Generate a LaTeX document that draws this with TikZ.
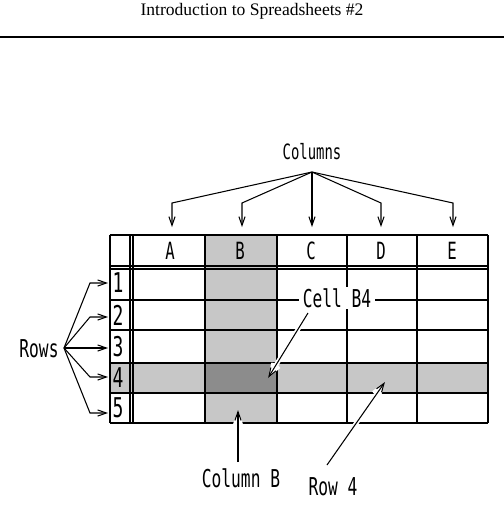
\documentclass[tikz,border=0pt]{standalone}
\usepackage{fontspec}
\setmainfont{Liberation Serif}
\newfontfamily\chifont[FakeStretch=0.66]{DejaVu Sans Mono}
\usetikzlibrary{arrows.meta}

\begin{document}
\begin{tikzpicture}[
    x=0.02cm, y=-0.02cm,
    lbl/.style={
        font=\chifont\fontsize{14}{16}\selectfont,
        inner sep=1pt
    },
    head/.style={
        font=\chifont\fontsize{13.5}{15}\selectfont,
        inner sep=0pt
    },
    num/.style={
        font=\chifont\fontsize{15.5}{17}\selectfont,
        inner sep=0pt
    },
    hline/.style={line width=1.1pt},
    vline/.style={line width=0.6pt},
    arrow/.style={-{Straight Barb[length=5pt,width=3.5pt]}, line width=0.6pt},
    pointer/.style={arrow, preaction={draw=white, line width=2.6pt}}
]

\useasboundingbox (0,0) rectangle (504,522);

% title
\node[font=\fontsize{10}{12}\selectfont] (title) at (252,11) {Introduction to Spreadsheets \#2};
\draw[line width=0.6pt] (0,37) -- (504,37);

% shading
\fill[black!22] (205,235) rectangle (277,423);
\fill[black!22] (110,363) rectangle (488,393);
\fill[black!45] (205,363) rectangle (277,393);

% grid
\foreach \y in {266,269,300,330,363,393}
    \draw[hline] (110,\y) -- (488,\y);
\foreach \x in {130,133,205,277,347,417}
    \draw[vline] (\x,235) -- (\x,423);
\draw[hline] (110,235) -- (488,235);
\draw[hline] (110,423) -- (488,423);
\draw[vline] (110,235) -- (110,423);
\draw[line width=0.9pt] (488,235) -- (488,423);

% column heads
\foreach \x/\l in {170/A,240/B,311/C,381/D,452/E}
    \node[head] (col\l) at (\x,251) {\l};

% row numbers
\foreach \y/\n in {283/1,315/2,347/3,378/4,408/5}
    \node[num] (row\n) at (118,\y) {\n};

% columns
\node[lbl, font=\chifont\fontsize{12}{14}\selectfont] (columns) at (312,152) {Columns};
\coordinate (ctop) at (312,172);
\foreach \x/\l in {172/A,242/B,381/D,453/E} {
    \coordinate (tip\l) at (\x,227);
    \draw[arrow] (ctop) -- (\x,203) -- (tip\l);
}
\coordinate (tipC) at (312,227);
\draw[arrow] (ctop) -- (tipC);

% rows
\node[lbl] (rows) at (39,349) {Rows};
\coordinate (rtop) at (64,348);
\foreach \y/\n in {283/1,317/2,377/4,413/5} {
    \coordinate (rtip\n) at (108,\y);
    \draw[arrow] (rtop) -- (90,\y) -- (rtip\n);
}
\coordinate (rtip3) at (108,348);
\draw[arrow] (rtop) -- (rtip3);

% cell B4
\node[lbl, fill=white, inner xsep=2pt] (cellb4) at (337,298) {Cell B4};
\coordinate (b4from) at (308,313);
\coordinate (b4tip) at (268,378);
\draw[pointer] (b4from) -- (b4tip);

% column B
\node[lbl] (colb) at (241,478) {Column B};
\coordinate (cbfrom) at (238,462);
\coordinate (cbtip) at (238,410);
\draw[pointer] (cbfrom) -- (cbtip);

% row 4
\node[lbl] (row4) at (333,487) {Row 4};
\coordinate (r4from) at (327,465);
\coordinate (r4tip) at (385,382);
\draw[pointer] (r4from) -- (r4tip);

\end{tikzpicture}
\end{document}
